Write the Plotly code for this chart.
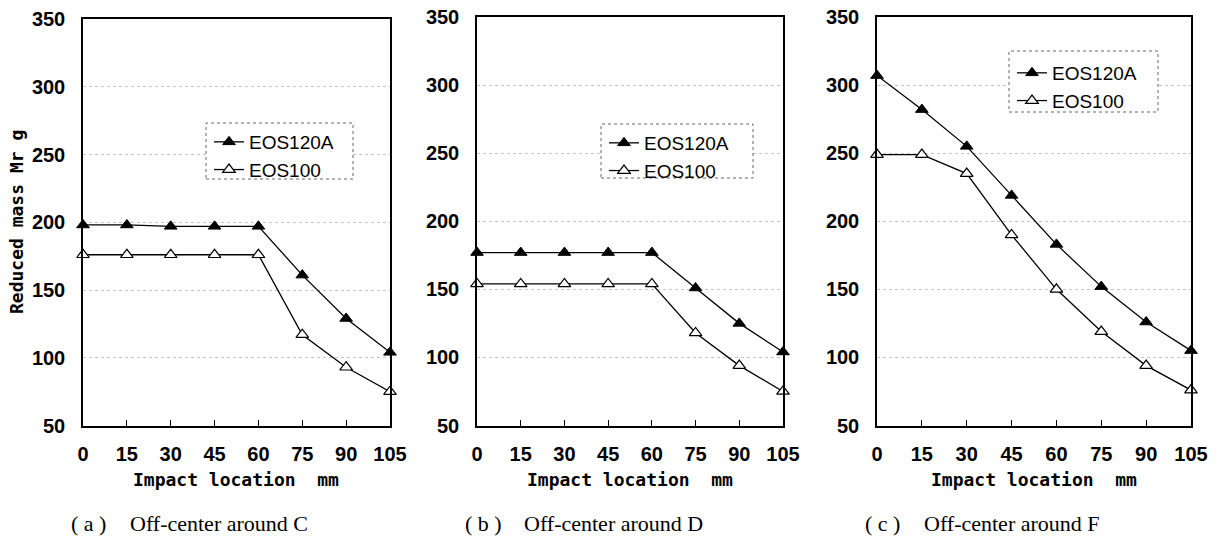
import plotly.graph_objects as go

x_mm = [0, 15, 30, 45, 60, 75, 90, 105]
a_eos120a = [198, 198, 197, 197, 197, 161, 129, 104]
a_eos100 = [176, 176, 176, 176, 176, 117, 93, 75]
b_eos120a = [177, 177, 177, 177, 177, 151, 125, 104]
b_eos100 = [154, 154, 154, 154, 154, 118, 94, 75]
c_eos120a = [307, 282, 255, 219, 183, 152, 126, 105]
c_eos100 = [249, 249, 235, 190, 150, 119, 94, 76]
panel_tags = ["( a )", "( b )", "( c )"]
panel_titles = ["Off-center around C", "Off-center around D", "Off-center around F"]
y_ticks = [50, 100, 150, 200, 250, 300, 350]
x_title = "Impact location  mm"
y_title = "Reduced mass Mr g"

W, H = 1217, 538
# (x-left, x-right), (y-top, y-bottom), legend anchor, legend box
panels = [
    ((83, 390), (19, 425.5), (209, 123), (206, 123, 353, 179)),
    ((477, 783), (17, 425.5), (604, 124), (601, 124, 753, 178)),
    ((877, 1191), (17, 425.5), (1012, 54), (1009, 51, 1158, 112)),
]

tick_font = dict(family="Liberation Sans", size=20, color="black", weight="bold")
mono = dict(family="DejaVu Sans Mono, Liberation Mono", size=18, color="black", weight="bold")

fig = go.Figure()
shapes, annotations = [], []
for i, ((xl, xr), (yt, yb), (lx, ly), box) in enumerate(panels):
    k = "" if i == 0 else str(i + 1)
    leg = "legend" if i == 0 else "legend" + str(i + 1)
    series = [(a_eos120a, a_eos100), (b_eos120a, b_eos100), (c_eos120a, c_eos100)][i]
    fig.add_trace(go.Scatter(x=x_mm, y=series[0], mode="lines+markers", name="EOS120A",
                             line=dict(color="black", width=1.3),
                             marker=dict(symbol="triangle-up", size=11, color="black",
                                         line=dict(color="black", width=1)),
                             xaxis="x" + k, yaxis="y" + k, legend=leg, cliponaxis=False))
    fig.add_trace(go.Scatter(x=x_mm, y=series[1], mode="lines+markers", name="EOS100",
                             line=dict(color="black", width=1.3),
                             marker=dict(symbol="triangle-up", size=11, color="white",
                                         line=dict(color="black", width=1.2)),
                             xaxis="x" + k, yaxis="y" + k, legend=leg, cliponaxis=False))
    fig.layout["xaxis" + k] = dict(
        domain=[xl / W, xr / W], range=[0, 105], tickvals=x_mm, anchor="y" + k,
        automargin=False, showline=True, mirror=True, linecolor="black", linewidth=1.5,
        ticks="inside", ticklen=6, tickcolor="black", showgrid=False, zeroline=False,
        ticklabelstandoff=10, tickfont=tick_font)
    fig.layout["yaxis" + k] = dict(
        domain=[1 - yb / H, 1 - yt / H], range=[50, 350], tickvals=y_ticks,
        anchor="x" + k, automargin=False, showline=True, mirror=True,
        linecolor="black", linewidth=1.5, ticks="", zeroline=False,
        showgrid=True, gridcolor="#c4c4c4", griddash="dot", gridwidth=1,
        ticklabelstandoff=12, tickfont=tick_font)
    fig.layout[leg] = dict(x=lx / W, y=1 - ly / H, xanchor="left", yanchor="top",
                           bgcolor="rgba(0,0,0,0)", borderwidth=0,
                           font=dict(family="Liberation Sans", size=19, color="black"),
                           itemwidth=30)
    x0, y0, x1, y1 = box
    shapes.append(dict(type="rect", xref="paper", yref="paper",
                       x0=x0 / W, x1=x1 / W, y0=1 - y1 / H, y1=1 - y0 / H,
                       line=dict(color="#666666", width=1, dash="dot"),
                       fillcolor="white", layer="above"))
    annotations.append(dict(text=panel_tags[i], xref="paper", yref="paper",
                            x=(xl - 14) / W, y=1 - 523 / H, xanchor="left", yanchor="middle",
                            showarrow=False,
                            font=dict(family="Liberation Serif", size=22, color="black")))
    annotations.append(dict(text=panel_titles[i], xref="paper", yref="paper",
                            x=(xl + 45) / W, y=1 - 523 / H, xanchor="left", yanchor="middle",
                            showarrow=False,
                            font=dict(family="Liberation Serif", size=22, color="black")))
    annotations.append(dict(text=x_title, xref="paper", yref="paper",
                            x=(xl + xr) / 2 / W, y=1 - 479 / H, xanchor="center",
                            yanchor="middle", showarrow=False, font=mono))

annotations.append(dict(text=y_title, xref="paper", yref="paper", x=16 / W,
                        y=1 - 222 / H, xanchor="center", yanchor="middle",
                        textangle=-90, showarrow=False, font=mono))

fig.update_layout(width=W, height=H, margin=dict(l=0, r=0, t=0, b=0),
                  plot_bgcolor="white", paper_bgcolor="white", showlegend=True,
                  shapes=shapes, annotations=annotations)
fig.write_html("out.html", config={"displayModeBar": False},
               post_script="document.body.style.margin='0';document.body.style.padding='0';document.body.style.overflow='hidden';")
